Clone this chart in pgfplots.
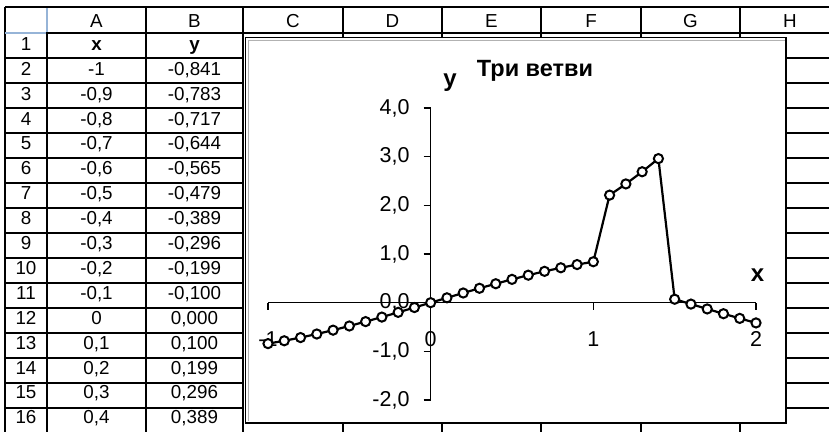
\documentclass[border=0pt]{standalone}
\usepackage{fontspec}
\setmainfont{Liberation Sans}
\usepackage{pgfplots}
\pgfplotsset{compat=1.18}

\definecolor{selblue}{RGB}{150,180,215}
\newcommand{\cellfont}{\fontsize{18.8}{20}\selectfont}
\newcommand{\tickfont}{\fontsize{21.5}{23}\selectfont}
\newcommand{\titlefont}{\fontsize{23.5}{25}\selectfont\bfseries}
\newcommand{\labfont}{\fontsize{24}{26}\selectfont\bfseries}

\begin{document}
\begin{tikzpicture}
\useasboundingbox (0pt,0pt) rectangle (829pt,-432pt);

\begin{scope}[x=1pt,y=1pt]
% spreadsheet grid
\begin{scope}[line width=1.9pt]
  \draw (5,-7) -- (829,-7);
  \draw (5,-32.7) -- (829,-32.7);
  \foreach \r in {0,...,14} {
    \draw (5,{-57.7-25*\r}) -- (243,{-57.7-25*\r});
    \draw (786,{-57.7-25*\r}) -- (829,{-57.7-25*\r});
  }
  \foreach \c in {5,47,146,243,343,442,541,641,740}
    \draw (\c,-7) -- (\c,-432);
\end{scope}
\draw[selblue, line width=1.9pt] (5,-32.7) -- (46,-32.7);
\draw[selblue, line width=1.9pt] (47,-8) -- (47,-32);

% headers and cells
\begin{scope}[font=\cellfont]
  \foreach \c/\n in {96.5/A,194.5/B,293/C,392.5/D,491.5/E,591/F,690.5/G,790/H}
    \node[anchor=base, inner sep=0pt] at (\c,-27) {\n};
  \foreach \k in {1,...,16}
    \node[anchor=base, inner sep=0pt] at (26,{-50.3-24.9*(\k-1)}) {\k};
  \node[anchor=base, inner sep=0pt] at (96.5,-50.3) {\bfseries x};
  \node[anchor=base, inner sep=0pt] at (194.5,-50.3) {\bfseries y};
  \foreach \xv/\yv [count=\i from 2] in {-1/-0{,}841, -0{,}9/-0{,}783,
      -0{,}8/-0{,}717, -0{,}7/-0{,}644, -0{,}6/-0{,}565, -0{,}5/-0{,}479,
      -0{,}4/-0{,}389, -0{,}3/-0{,}296, -0{,}2/-0{,}199, -0{,}1/-0{,}100,
      0/0{,}000, 0{,}1/0{,}100, 0{,}2/0{,}199, 0{,}3/0{,}296, 0{,}4/0{,}389} {
    \node[anchor=base, inner sep=0pt] at (96.5,{-50.3-24.9*(\i-1)}) {\xv};
    \node[anchor=base, inner sep=0pt] at (194.5,{-50.3-24.9*(\i-1)}) {\yv};
  }
\end{scope}

% chart area
\draw[line width=1.9pt, fill=white] (245.5,-37.5) rectangle (786,-423);
\draw[gray!60, line width=0.9pt] (248.7,-421) -- (248.7,-40.5) -- (785,-40.5);
\end{scope}

\begin{axis}[
  at={(268pt,-400pt)}, anchor=south west,
  scale only axis, width=488pt, height=292pt,
  xmin=-1, xmax=2, ymin=-2, ymax=4,
  axis lines=middle,
  axis line style={-, line width=1.1pt},
  xtick={-1,0,1,2}, ytick={-2,-1,0,1,2,3,4},
  hide obscured x ticks=false, hide obscured y ticks=false,
  tick align=outside, major tick length=7pt,
  tick style={black, line width=1.1pt},
  ticklabel style={font=\tickfont, inner sep=0pt},
  /pgf/number format/assume math mode=true,
  /pgf/number format/use comma,
  yticklabel style={/pgf/number format/fixed,
    /pgf/number format/fixed zerofill,
    /pgf/number format/precision=1, anchor=east, xshift=-14pt},
  xticklabel style={anchor=base, yshift=-37pt},
  clip=false,
]
\addplot[black, line width=2.2pt, mark=*, mark size=4.6pt,
  mark options={fill=white, draw=black, line width=2pt}] coordinates {
  (-1.0,-0.841) (-0.9,-0.783) (-0.8,-0.717) (-0.7,-0.644) (-0.6,-0.565)
  (-0.5,-0.479) (-0.4,-0.389) (-0.3,-0.296) (-0.2,-0.199) (-0.1,-0.100)
  (0.0,0.000) (0.1,0.100) (0.2,0.199) (0.3,0.296) (0.4,0.389)
  (0.5,0.479) (0.6,0.565) (0.7,0.644) (0.8,0.717) (0.9,0.783)
  (1.0,0.841) (1.1,2.21) (1.2,2.44) (1.3,2.69) (1.4,2.96)
  (1.5,0.071) (1.6,-0.029) (1.7,-0.129) (1.8,-0.227) (1.9,-0.323)
  (2.0,-0.416)
};
\end{axis}

\begin{scope}[x=1pt,y=1pt]
\node[font=\titlefont, anchor=base, inner sep=0pt] at (535,-76) {Три ветви};
\node[font=\labfont, anchor=base, inner sep=0pt] at (450,-86) {y};
\node[font=\labfont, anchor=base, inner sep=0pt] at (757.5,-281) {x};
\end{scope}
\end{tikzpicture}
\end{document}
